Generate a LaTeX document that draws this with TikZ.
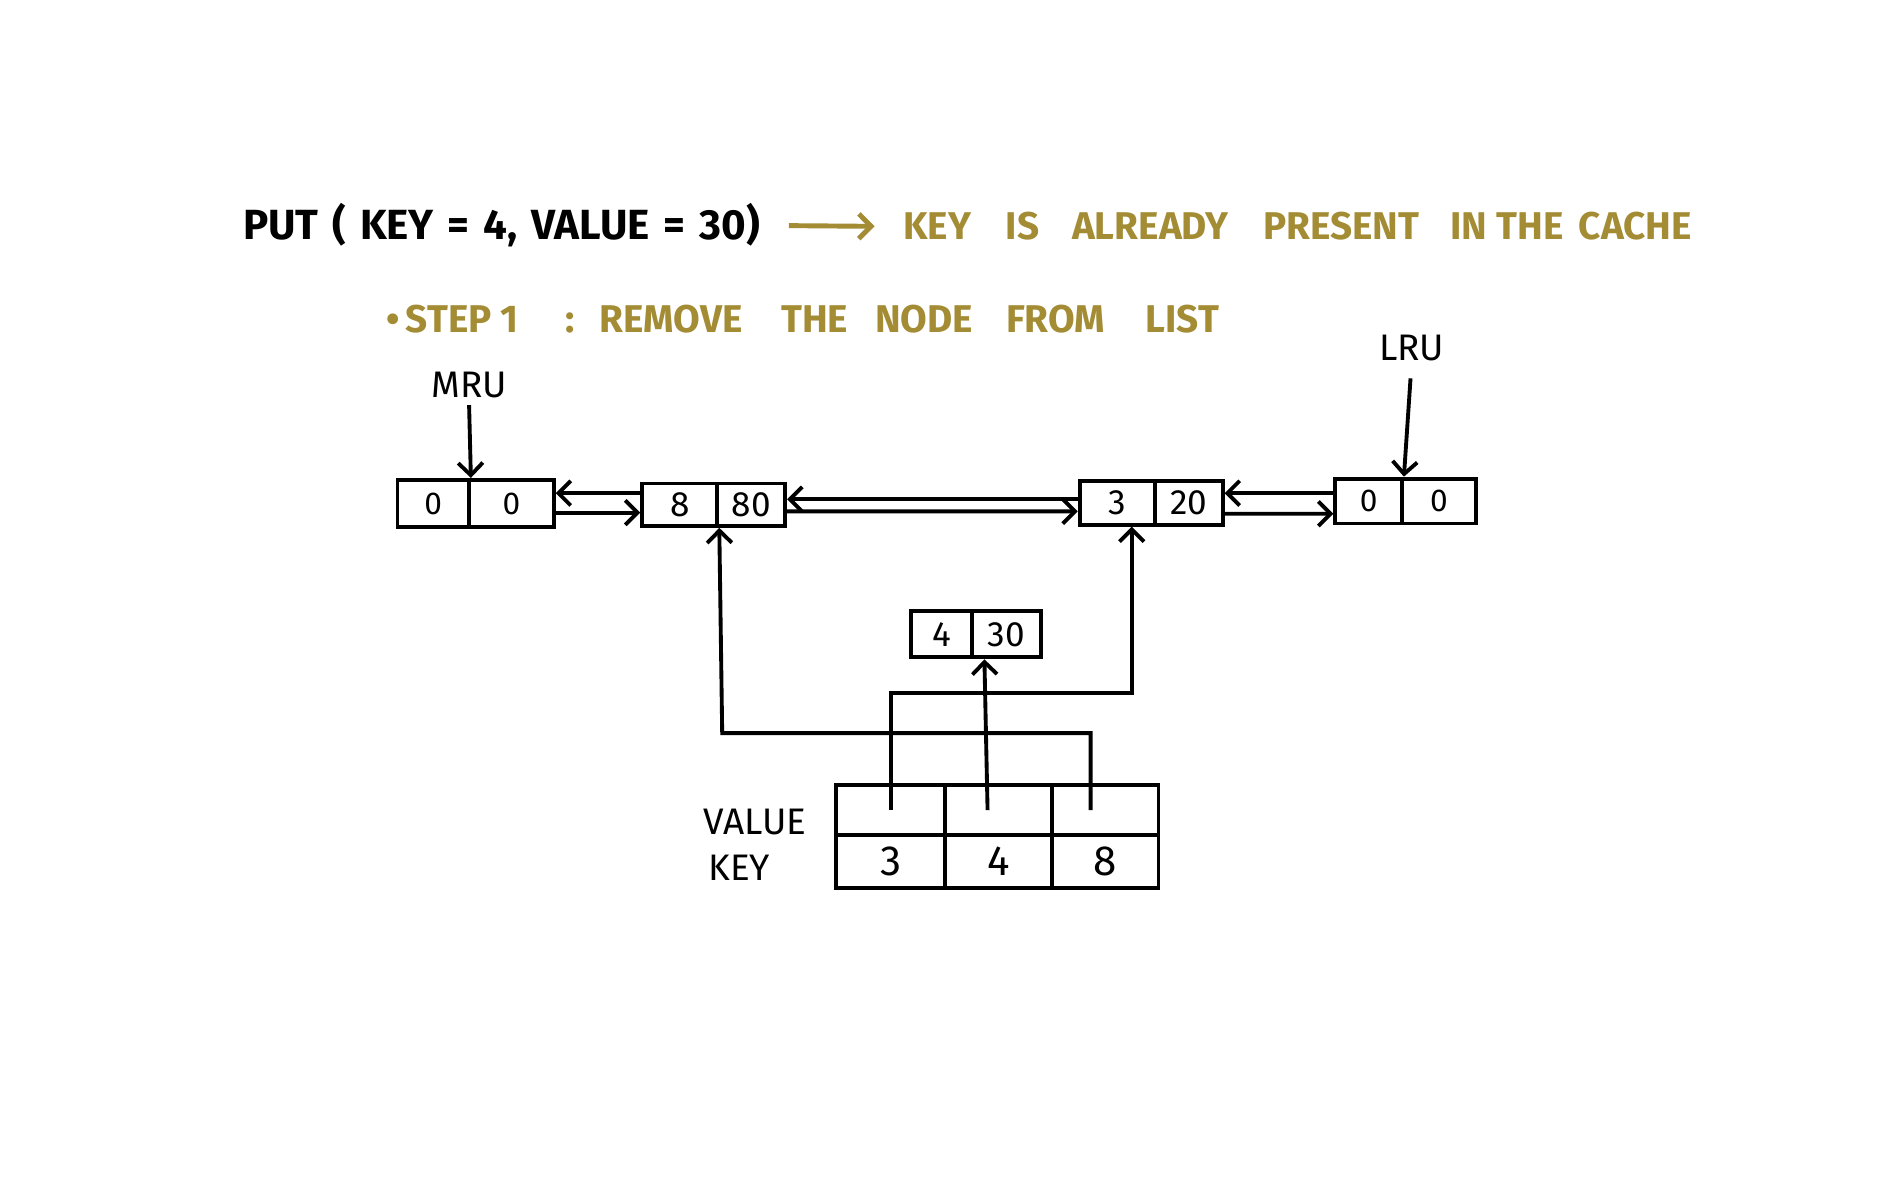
\documentclass[tikz,border=0pt]{standalone}
\usepackage{fontspec}
\setmainfont{Fira Sans}
\usetikzlibrary{arrows.meta,calc}
\definecolor{gold}{RGB}{163,140,52}
\def\px{*0.3448pt}
\tikzset{
  cell/.style={draw, line width=1.1pt, inner sep=0pt, font=\fontsize{10}{12}\selectfont},
  arr/.style={line width=1.1pt, -{Straight Barb[length=3.5pt,width=7pt]}},
  lbl/.style={inner sep=0pt, font=\fontsize{10.5}{12}\selectfont},
  headtxt/.style={inner sep=0pt, font=\fontsize{12}{14}\selectfont\bfseries},
  goldtxt/.style={inner sep=0pt, text=gold, font=\fontsize{11}{13}\selectfont\bfseries},
}
\begin{document}
\begin{tikzpicture}[x=0.012117cm, y=-0.012117cm]
\fill[white] (0,0) rectangle (1568,990);
\useasboundingbox (0,0) rectangle (1568,990);

% headings
\node[headtxt, anchor=west] (title) at (200,186) {\spaceskip=0.33em PUT ( KEY = 4, VALUE = 30)};
\node[goldtxt, anchor=west] (gold1) at (745,187) {KEY\hspace{0.9em}IS\hspace{0.85em}ALREADY\hspace{0.9em}PRESENT\hspace{0.8em}IN THE\hspace{0.4em}CACHE};
\draw[arr, gold, line width=1.4pt, shorten <=8pt, shorten >=8pt] (title.east) -- (gold1.west);
\node[goldtxt, anchor=west] (step) at (318,263) {\textbullet\,STEP 1\hspace{1.2em}:\hspace{0.65em}REMOVE\hspace{1em}THE\hspace{0.7em}NODE\hspace{0.85em}FROM\hspace{1.05em}LIST};

% list nodes
\node[cell, minimum width=59\px, minimum height=39\px] (aK) at (357.5,415.5) {\small 0};
\node[cell, minimum width=70\px, minimum height=39\px] (aV) at (422,415.5) {\small 0};
\node[cell, minimum width=62\px, minimum height=35\px] (bK) at (561,416.5) {8};
\node[cell, minimum width=56\px, minimum height=35\px] (bV) at (620,416.5) {80};
\node[cell, minimum width=62\px, minimum height=36\px] (cK) at (922,415) {3};
\node[cell, minimum width=56\px, minimum height=36\px] (cV) at (981,415) {20};
\node[cell, minimum width=55\px, minimum height=37\px] (dK) at (1129.5,413.5) {\small 0};
\node[cell, minimum width=61\px, minimum height=37\px] (dV) at (1187.5,413.5) {\small 0};
\node[cell, minimum width=50\px, minimum height=38\px] (eK) at (777,523.5) {4};
\node[cell, minimum width=57\px, minimum height=38\px] (eV) at (830.5,523.5) {30};

% table
\node[cell, minimum width=90\px, minimum height=41\px] (t1V) at (735,668.5) {};
\node[cell, minimum width=88\px, minimum height=41\px] (t2V) at (824,668.5) {};
\node[cell, minimum width=88\px, minimum height=41\px] (t3V) at (912,668.5) {};
\node[cell, minimum width=90\px, minimum height=44\px, font=\fontsize{12}{14}\selectfont] (t1K) at (735,711) {3};
\node[cell, minimum width=88\px, minimum height=44\px, font=\fontsize{12}{14}\selectfont] (t2K) at (824,711) {4};
\node[cell, minimum width=88\px, minimum height=44\px, font=\fontsize{12}{14}\selectfont] (t3K) at (912,711) {8};

% labels
\node[lbl] (mru) at (387,318) {MRU};
\node[lbl] (lru) at (1165,287) {LRU};
\node[lbl] (vallbl) at (623,678) {VALUE};
\node[lbl] (keylbl) at (610,716) {KEY};

% pointers
\draw[arr, shorten <=5\px] (mru.south) -- (aK.north east);
\draw[arr, shorten <=14\px] (lru.south) -- (dK.north east);

% links
\draw[arr] ($(bK.west)+(0,-9.5)$) -- ($(aV.east)+(0,-8.5)$);
\draw[arr] ($(aV.east)+(0,7.5)$) -- ($(bK.west)+(0,6.5)$);
\draw[arr] ($(cK.west)+(0,-3)$) -- ($(bV.east)+(0,-4.5)$);
\draw[arr] ($(bV.east)+(0,5.5)$) -- ($(cK.west)+(0,7)$);
\draw[arr] ($(dK.west)+(0,-6.5)$) -- ($(cV.east)+(0,-8)$);
\draw[arr] ($(cV.east)+(0,9)$) -- ($(dK.west)+(0,10.5)$);

% hash map pointers
\coordinate (j1) at (735,572);
\coordinate (j3a) at (900,605);
\coordinate (j3b) at (596,605);
\draw[arr] (t1V.center) -- (j1) -| ($(cK.south)+(12,0)$);
\draw[arr] ($(t2V.center)+(-9,0)$) -- ($(eV.south west)+(12,0)$);
\draw[arr] ($(t3V.center)+(-12,0)$) -- (j3a) -- (j3b) -- (bK.south east);
\end{tikzpicture}
\end{document}
